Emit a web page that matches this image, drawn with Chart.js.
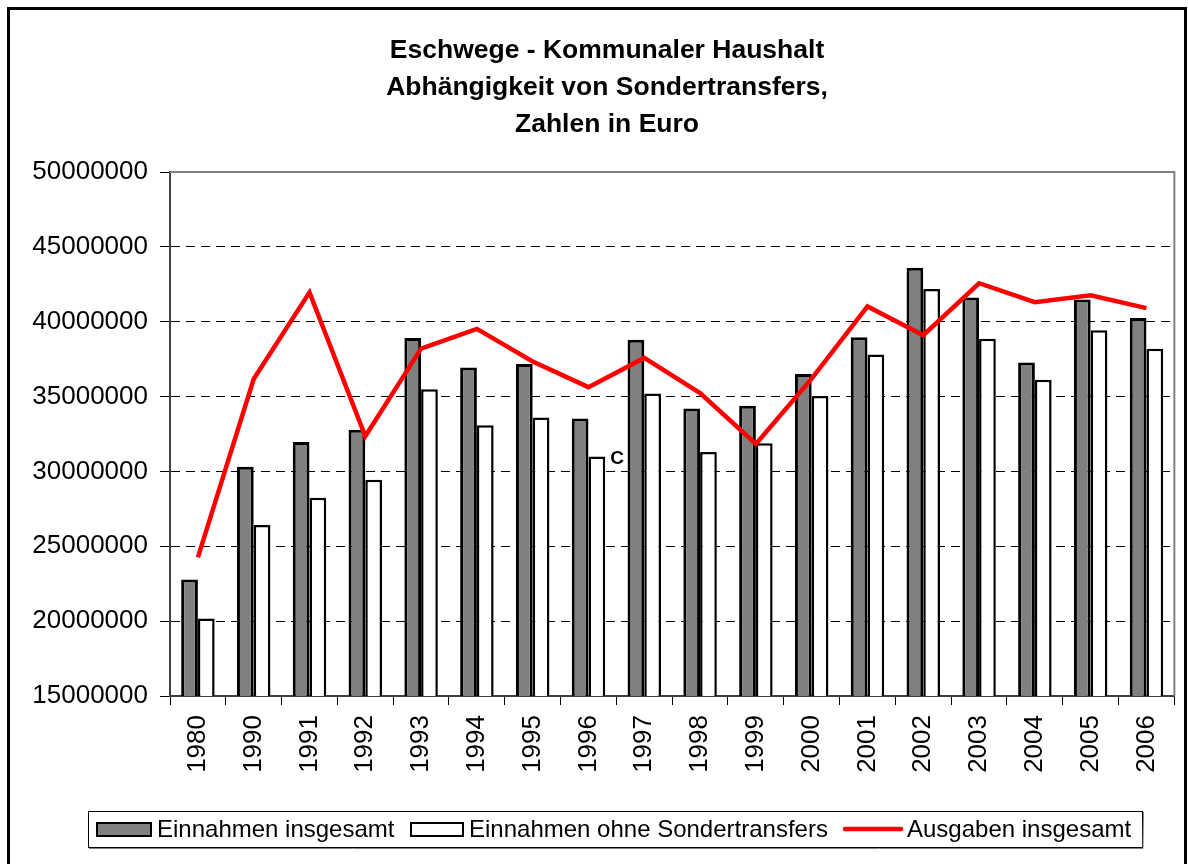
<!DOCTYPE html>
<html>
<head>
<meta charset="utf-8">
<script src="https://cdn.jsdelivr.net/npm/chart.js@4"></script>
<style>
html,body{margin:0;padding:0;background:#fff;}
#wrap{position:absolute;left:0;top:0;width:1188px;height:864px;}
</style>
</head>
<body>
<div id="wrap"><canvas id="c" width="1188" height="864"></canvas></div>
<script>
const categories = ['1980','1990','1991','1992','1993','1994','1995','1996','1997','1998','1999','2000','2001','2002','2003','2004','2005','2006'];
const einnahmenInsgesamt = [22780000,30310000,31970000,32790000,38910000,36940000,37180000,33540000,38800000,34200000,34390000,36500000,38960000,43600000,41610000,37270000,41490000,40250000];
const einnahmenOhne = [20180000,26420000,28250000,29440000,35490000,33080000,33610000,30990000,35210000,31290000,31880000,35040000,37810000,42190000,38870000,36120000,39430000,38190000];
const ausgabenInsgesamt = [24260000,36170000,41960000,32350000,38210000,39520000,37340000,35630000,37580000,35230000,31830000,36200000,41020000,39100000,42570000,41300000,41770000,40910000];
const yTicks = [15000000,20000000,25000000,30000000,35000000,40000000,45000000,50000000];
const titleLines = ['Eschwege - Kommunaler Haushalt','Abhängigkeit von Sondertransfers,','Zahlen in Euro'];
const seriesNames = ['Einnahmen insgesamt','Einnahmen ohne Sondertransfers','Ausgaben insgesamt'];
const annotationText = 'C';

const FONT = "'Liberation Sans', Arial, sans-serif";

const decor = {
  id: 'decor',
  beforeDraw(chart) {
    const ctx = chart.ctx;
    ctx.save();
    ctx.fillStyle = '#fff';
    ctx.fillRect(0,0,chart.width,chart.height);
    ctx.strokeStyle = '#000';
    ctx.lineWidth = 3;
    ctx.strokeRect(8.5, 8.5, 1177, 900);
    ctx.fillStyle = '#000';
    ctx.font = 'bold 26.5px ' + FONT;
    ctx.textAlign = 'center';
    ctx.textBaseline = 'middle';
    const ys = [51, 88, 125];
    titleLines.forEach((t,i)=>ctx.fillText(t, 607, ys[i]));
    ctx.restore();
  },
  beforeDatasetsDraw(chart) {
    const {ctx, chartArea:a} = chart;
    ctx.save();
    ctx.strokeStyle = '#808080';
    ctx.lineWidth = 2;
    ctx.beginPath();
    ctx.moveTo(a.left, a.top);
    ctx.lineTo(a.right, a.top);
    ctx.lineTo(a.right, a.bottom);
    ctx.stroke();
    ctx.restore();
  },
  afterDraw(chart) {
    const ctx = chart.ctx;
    ctx.save();
    const meta = chart.getDatasetMeta(1);
    const el = meta.data[7];
    if (el) {
      ctx.font = 'bold 19px ' + FONT;
      ctx.fillStyle = '#000';
      ctx.textAlign = 'left';
      ctx.textBaseline = 'middle';
      ctx.fillText(annotationText, el.x + el.width/2 + 5, el.y + 2);
    }
    const bx = 88, by = 811, bw = 1054, bh = 36;
    ctx.fillStyle = '#fff';
    ctx.fillRect(bx, by, bw, bh);
    ctx.strokeStyle = '#000';
    ctx.lineWidth = 1;
    ctx.strokeRect(bx+0.5, by+0.5, bw, bh);
    ctx.strokeStyle = '#808080';
    ctx.beginPath(); ctx.moveTo(bx+1, by+bh+1.5); ctx.lineTo(bx+bw+1, by+bh+1.5); ctx.lineTo(bx+bw+1.5, by+1); ctx.stroke();
    const cy = by + bh/2;
    ctx.fillStyle = '#808080';
    ctx.fillRect(96, cy-7, 56, 15);
    ctx.strokeStyle = '#000'; ctx.lineWidth = 2;
    ctx.strokeRect(97, cy-6, 54, 13);
    ctx.fillStyle = '#fff';
    ctx.fillRect(410, cy-7, 54, 15);
    ctx.strokeRect(411, cy-6, 52, 13);
    ctx.strokeStyle = '#ff0000'; ctx.lineWidth = 4.5; ctx.lineCap = 'round';
    ctx.beginPath(); ctx.moveTo(845, cy); ctx.lineTo(901, cy); ctx.stroke();
    ctx.fillStyle = '#000';
    ctx.font = '24px ' + FONT;
    ctx.textAlign = 'left';
    ctx.textBaseline = 'middle';
    ctx.fillText(seriesNames[0], 157, cy+1);
    ctx.fillText(seriesNames[1], 469, cy+1);
    ctx.fillText(seriesNames[2], 907, cy+1);
    ctx.restore();
  }
};

new Chart(document.getElementById('c'), {
  type: 'bar',
  data: {
    labels: categories,
    datasets: [
      { type:'bar', label: seriesNames[0], data: einnahmenInsgesamt, backgroundColor:'#808080', borderColor:'#000', borderWidth:3, borderSkipped:false, order:2, categoryPercentage:0.6, barPercentage:1.0 },
      { type:'bar', label: seriesNames[1], data: einnahmenOhne, backgroundColor:'#ffffff', borderColor:'#000', borderWidth:2.5, borderSkipped:false, order:2, categoryPercentage:0.6, barPercentage:1.0 },
      { type:'line', label: seriesNames[2], data: ausgabenInsgesamt, borderColor:'#ff0000', backgroundColor:'#ff0000', borderWidth:4.5, pointRadius:0, tension:0, order:0, borderJoinStyle:'miter' }
    ]
  },
  options: {
    responsive:false,
    animation:false,
    layout:{ padding:{ top:172, right:12, bottom:0, left:0 } },
    plugins:{ legend:{display:false}, title:{display:false}, tooltip:{enabled:false} },
    scales:{
      x:{
        offset:true,
        grid:{ offset:true, drawOnChartArea:false, drawTicks:true, tickLength:9, tickColor:'#000', tickWidth:1 },
        border:{ display:true, color:'#404040', width:2 },
        ticks:{ minRotation:90, maxRotation:90, autoSkip:false, padding:10, color:'#000', font:{ family:FONT, size:26 } },
        afterFit(s){ s.height = 168; }
      },
      y:{
        min:15000000, max:50000000,
        afterBuildTicks(s){ s.ticks = yTicks.map(v=>({value:v})); },
        grid:{
          color:(c)=> (c.tick && (c.tick.value===15000000 || c.tick.value===50000000)) ? 'rgba(0,0,0,0)' : '#000',
          lineWidth:1, drawTicks:true, tickLength:10, tickColor:'#000', tickWidth:1
        },
        border:{ display:true, color:'#404040', width:2, dash:[9,6] },
        ticks:{ padding:12, color:'#000', font:{ family:FONT, size:26 }, callback:(v)=>String(v) },
        afterFit(s){ s.width = 170; }
      }
    }
  },
  plugins:[decor]
});
</script>
</body>
</html>
